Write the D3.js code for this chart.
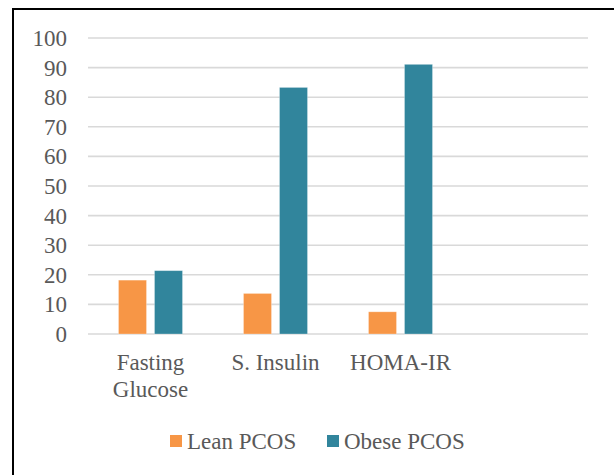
<!DOCTYPE html>
<html>
<head>
<meta charset="utf-8">
<script src="https://cdn.jsdelivr.net/npm/d3@7"></script>
<style>
  html, body { margin: 0; padding: 0; background: #fff; }
  svg { display: block; }
  svg text { font-family: "Liberation Serif", "Times New Roman", Tinos, "DejaVu Serif", serif; }
</style>
</head>
<body>
<svg id="chart" width="614" height="475"></svg>
<script>
// Grouped bar chart: lean vs obese PCOS
const categories = ["Fasting Glucose", "S. Insulin", "HOMA-IR", ""];
const seriesNames = ["Lean PCOS", "Obese PCOS"];
const leanValues = [18.2, 13.7, 7.5, null];
const obeseValues = [21.4, 83.3, 91.1, null];
const yTicks = [0, 10, 20, 30, 40, 50, 60, 70, 80, 90, 100];
const seriesColors = ["#F79646", "#31859C"];

const svg = d3.select("#chart");
const textColor = "#595959";

// outer frame
svg.append("rect")
  .attr("x", 13).attr("y", 9)
  .attr("width", 640).attr("height", 520)
  .attr("fill", "#fff")
  .attr("stroke", "#000").attr("stroke-width", 2);

const plot = { left: 88, right: 588, top: 38, bottom: 334 };

const y = d3.scaleLinear().domain([0, 100]).range([plot.bottom, plot.top]);
const x0 = d3.scaleBand().domain(categories).range([plot.left, plot.right]).padding(0);
const x1 = d3.scaleBand().domain(seriesNames).range([0, x0.bandwidth()])
  .paddingInner(0.2222).paddingOuter(0.847);

// gridlines
svg.append("g")
  .selectAll("line")
  .data(yTicks)
  .join("line")
  .attr("x1", plot.left).attr("x2", plot.right)
  .attr("y1", d => y(d)).attr("y2", d => y(d))
  .attr("stroke", "#d9d9d9").attr("stroke-width", 1.6);

// y axis labels
const yAxis = d3.axisLeft(y).tickValues(yTicks).tickSize(0).tickPadding(0);
const yG = svg.append("g").attr("transform", `translate(67,0)`).call(yAxis);
yG.attr("font-family", null).attr("font-size", null);
yG.select(".domain").remove();
yG.selectAll("text")
  .style("font-size", "23px")
  .attr("fill", textColor).attr("dy", "0.33em");

// bars
const rows = categories.map((c, i) => ({
  cat: c,
  vals: [leanValues[i], obeseValues[i]]
}));
const groups = svg.append("g").selectAll("g")
  .data(rows)
  .join("g")
  .attr("transform", d => `translate(${x0(d.cat)},0)`);
groups.selectAll("rect")
  .data(d => d.vals.map((v, j) => ({ name: seriesNames[j], v, j })).filter(e => e.v != null))
  .join("rect")
  .attr("x", d => x1(d.name))
  .attr("width", x1.bandwidth())
  .attr("y", d => y(d.v))
  .attr("height", d => y(0) - y(d.v))
  .attr("fill", d => seriesColors[d.j])
  .attr("stroke", "#fff").attr("stroke-opacity", 0.35).attr("stroke-width", 0.8);

// category labels, wrapped onto lines
const labelLines = {
  "Fasting Glucose": ["Fasting", "Glucose"],
  "S. Insulin": ["S. Insulin"],
  "HOMA-IR": ["HOMA-IR"],
  "": []
};
const xAxis = d3.axisBottom(x0).tickSize(0).tickFormat("");
const xG = svg.append("g").attr("transform", `translate(0,${plot.bottom})`).call(xAxis);
xG.attr("font-family", null).attr("font-size", null);
xG.select(".domain").remove();
xG.selectAll(".tick").each(function(d) {
  const t = d3.select(this).append("text")
    .style("font-size", "23px")
    .attr("fill", textColor).attr("text-anchor", "middle");
  labelLines[d].forEach((line, i) => {
    t.append("tspan").attr("x", 0).attr("y", 36 + i * 27).text(line);
  });
});

// legend
const legendItems = [
  { name: seriesNames[0], color: seriesColors[0], x: 170 },
  { name: seriesNames[1], color: seriesColors[1], x: 327 }
];
const lg = svg.append("g").selectAll("g")
  .data(legendItems)
  .join("g")
  .attr("transform", d => `translate(${d.x},435)`);
lg.append("rect").attr("width", 12).attr("height", 12).attr("fill", d => d.color);
lg.append("text")
  .attr("x", 17).attr("y", 14)
  .style("font-size", "23px")
  .attr("fill", textColor)
  .text(d => d.name);
</script>
</body>
</html>
